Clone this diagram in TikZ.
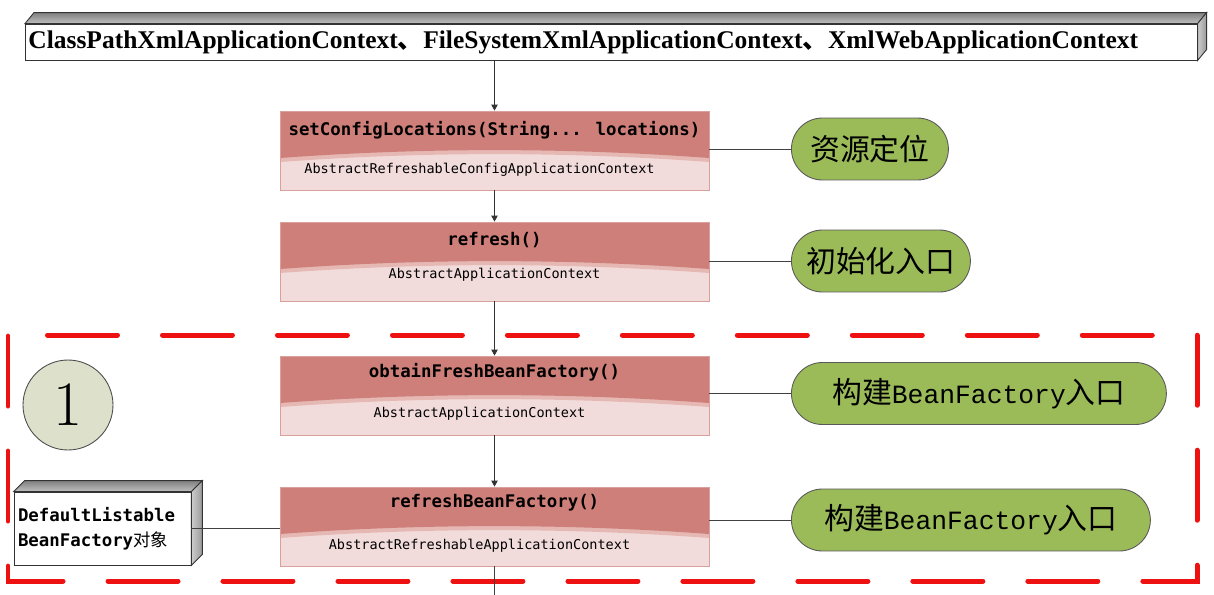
\documentclass[tikz,border=0pt]{standalone}
\usepackage{fontspec}
\usetikzlibrary{arrows.meta,positioning,shapes.misc,calc}
\newfontfamily\cjk{Noto Sans CJK SC}
\newfontfamily\codefont{DejaVu Sans Mono}
\newfontfamily\timesfont{Liberation Serif}
\newfontfamily\pillmono{Liberation Mono}
\definecolor{hdrcol}{HTML}{CF7F79}
\definecolor{bandcol}{HTML}{E6B8B4}
\definecolor{bodycol}{HTML}{F2DCDB}
\definecolor{edgecol}{HTML}{D9A09C}
\definecolor{pillcol}{HTML}{9BBB59}
\definecolor{numcol}{HTML}{DDE0CA}
\definecolor{redcol}{HTML}{EE1111}
\newcommand{\pillLatin}[1]{{\pillmono\fontsize{15pt}{20pt}\selectfont #1}}

\begin{document}
\begin{tikzpicture}[
  x=0.02cm, y=-0.02cm,
  mbox/.style={draw=edgecol, fill=bodycol, line width=0.5pt,
               minimum width=8.58cm, minimum height=1.58cm, inner sep=0pt,
               path picture={
                 \fill[bandcol] (path picture bounding box.north west) -- (path picture bounding box.north east)
                   -- ([yshift=-1.02cm]path picture bounding box.north east)
                   .. controls ([xshift=-2.86cm,yshift=-0.81cm]path picture bounding box.north east)
                   and ([xshift=2.86cm,yshift=-0.81cm]path picture bounding box.north west)
                   .. ([yshift=-1.02cm]path picture bounding box.north west) -- cycle;
                 \fill[hdrcol] (path picture bounding box.north west) -- (path picture bounding box.north east)
                   -- ([yshift=-0.94cm]path picture bounding box.north east)
                   .. controls ([xshift=-2.86cm,yshift=-0.73cm]path picture bounding box.north east)
                   and ([xshift=2.86cm,yshift=-0.73cm]path picture bounding box.north west)
                   .. ([yshift=-0.94cm]path picture bounding box.north west) -- cycle;
               }},
  mtitle/.style={font={\codefont\bfseries\fontsize{9.9pt}{11pt}\selectfont}, inner sep=0pt},
  msub/.style={font={\codefont\fontsize{7.7pt}{9pt}\selectfont}, inner sep=0pt},
  pill/.style={rounded rectangle, draw=black!65, fill=pillcol, line width=0.5pt,
               minimum height=1.24cm, inner sep=0pt, font={\cjk\fontsize{17pt}{20pt}\selectfont}},
  box3d/.style={draw=black!80, fill=white, line width=0.5pt},
  topface/.style={draw=black!80, line width=0.5pt, top color=black!50, bottom color=black!25},
  sideface/.style={draw=black!80, line width=0.5pt, left color=black!20, right color=black!40},
  flow/.style={-{Triangle[length=0.12cm,width=0.13cm]}, draw=black!80, line width=0.5pt},
  link/.style={draw=black!75, line width=0.5pt},
  redbox/.style={draw=redcol, line width=0.1cm, line cap=round,
                 dash pattern=on 1.4cm off 0.9cm, dash phase=1.51cm},
  numc/.style={circle, draw=black!70, fill=numcol, line width=0.5pt,
               minimum size=1.8cm, inner sep=0pt, font=\fontsize{36pt}{36pt}\selectfont},
]
\useasboundingbox (0,0) rectangle (1214,595);

%=========== context classes (top bar) ===========
\node[box3d, anchor=west, text width=23.32cm, inner xsep=0.06cm, minimum height=0.72cm, align=left,
      font={\timesfont\bfseries\fontsize{14.5pt}{17pt}\selectfont}] (ctx) at (25,42)
  {ClassPathXmlApplicationContext{\cjk 、}FileSystemXmlApplicationContext{\cjk 、}XmlWebApplicationContext};
\draw[topface] (ctx.north west) -- ++(9,-11) -- ($(ctx.north east)+(9,-11)$) -- (ctx.north east) -- cycle;
\draw[sideface] (ctx.north east) -- ++(9,-11) -- ($(ctx.south east)+(9,-11)$) -- (ctx.south east) -- cycle;

%=========== dashed frame (step 1) ===========
\draw[redbox] (8,335) -- (1197,335) -- (1197,581) -- (8,581) -- cycle;
\node[numc] (n1) at (68,405) {1};

%=========== method boxes ===========
\node[mbox] (b1) at (494.5,150.5) {};
\node[mtitle] (b1t) at ([yshift=-0.39cm]b1.north) {setConfigLocations(String... locations)};
\node[msub]   (b1s) at ([xshift=-0.3cm,yshift=0.41cm]b1.south) {AbstractRefreshableConfigApplicationContext};

\node[mbox] (b2) at (494.5,261.5) {};
\node[mtitle] (b2t) at ([yshift=-0.37cm]b2.north) {refresh()};
\node[msub]   (b2s) at ([yshift=0.54cm]b2.south) {AbstractApplicationContext};

\node[mbox] (b3) at (494.5,395.5) {};
\node[mtitle] (b3t) at ([yshift=-0.34cm]b3.north) {obtainFreshBeanFactory()};
\node[msub]   (b3s) at ([xshift=-0.3cm,yshift=0.44cm]b3.south) {AbstractApplicationContext};

\node[mbox] (b4) at (494.5,526.5) {};
\node[mtitle] (b4t) at ([yshift=-0.32cm]b4.north) {refreshBeanFactory()};
\node[msub]   (b4s) at ([xshift=-0.3cm,yshift=0.42cm]b4.south) {AbstractRefreshableApplicationContext};

\draw[flow] (ctx.south -| b1.north) -- (b1.north);
\foreach \a/\b in {b1/b2, b2/b3, b3/b4}
  \draw[flow] (\a.south) -- (\b.north);
\coordinate (cont) at (494.5,595);
\draw[link] (b4.south) -- (cont);

%=========== notes ===========
\node[pill, anchor=west, minimum width=3.14cm] (p1) at (791,149) {资源定位};
\node[pill, anchor=west, minimum width=3.58cm] (p2) at (791,261) {初始化入口};
\node[pill, anchor=west, minimum width=7.5cm]  (p3) at (791,393.5) {构建\pillLatin{BeanFactory}入口};
\node[pill, anchor=west, minimum width=7.18cm] (p4) at (791,520) {构建\pillLatin{BeanFactory}入口};

\foreach \b/\p in {b1/p1, b2/p2, b3/p3, b4/p4}
  \draw[link] (\p.west -| \b.east) -- (\p.west);

%=========== bean factory object ===========
\node[box3d, text width=3.38cm, inner xsep=0.08cm, minimum height=1.46cm, align=left,
      font={\codefont\bfseries\fontsize{9.9pt}{14.2pt}\selectfont}] (dlbf) at (102.5,528.5)
  {DefaultListable\\BeanFactory{\cjk\mdseries 对象}};
\draw[topface] (dlbf.north west) -- ++(11,-11) -- ($(dlbf.north east)+(11,-11)$) -- (dlbf.north east) -- cycle;
\draw[sideface] (dlbf.north east) -- ++(11,-11) -- ($(dlbf.south east)+(11,-11)$) -- (dlbf.south east) -- cycle;
\draw[link] (dlbf.east) -- (dlbf.east -| b4.west);

\end{tikzpicture}
\end{document}
